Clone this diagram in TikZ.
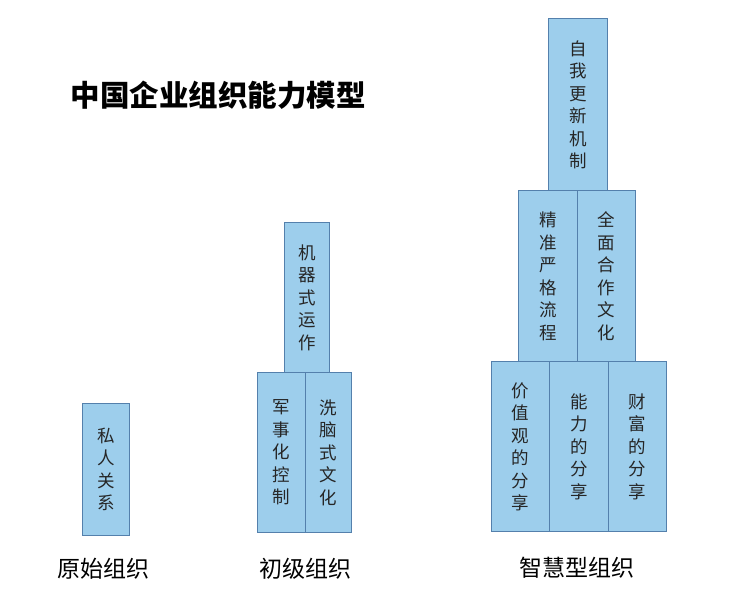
\documentclass[tikz,border=0pt]{standalone}
\usepackage{fontspec}
\setmainfont{Noto Sans CJK SC}
\newfontfamily\cjk{Noto Sans CJK SC}
\definecolor{boxfill}{RGB}{157,206,236}
\definecolor{boxline}{RGB}{84,128,172}
\begin{document}
\begin{tikzpicture}[x=1pt,y=-1pt,
  box/.style={draw=boxline, fill=boxfill, line width=1.2pt, inner sep=0pt, anchor=north west,
    align=center, font=\cjk\fontsize{17.5}{22.5}\selectfont, text=black!85},
  lvl/.style={font=\cjk\fontsize{23}{26}\selectfont, text=black},
  ttl/.style={font=\cjk\bfseries\fontsize{29.5}{32}\selectfont, text=black}]
\useasboundingbox (0,0) rectangle (738,592);
% title
\node[ttl] (title) at (218,95) {中国企业组织能力模型};
% primitive
\node[box, minimum width=47pt, minimum height=132pt] (p1) at (82,403) {私\\人\\关\\系};
\node[lvl] (l1) at (103,569) {原始组织};
% primary
\node[box, minimum width=45pt, minimum height=150pt] (a1) at (284,222) {机\\器\\式\\运\\作};
\node[box, minimum width=48pt, minimum height=160pt] (a2) at (257,372) {军\\事\\化\\控\\制};
\node[box, minimum width=46pt, minimum height=160pt] (a3) at (305,372) {洗\\脑\\式\\文\\化};
\node[lvl] (l2) at (305,569) {初级组织};
% wisdom
\node[box, minimum width=59pt, minimum height=172pt] (w1) at (548,18) {自\\我\\更\\新\\机\\制};
\node[box, minimum width=59pt, minimum height=171pt] (w2) at (518,190) {精\\准\\严\\格\\流\\程};
\node[box, minimum width=58pt, minimum height=171pt] (w3) at (577,190) {全\\面\\合\\作\\文\\化};
\node[box, minimum width=58pt, minimum height=170pt] (w4) at (491,361) {价\\值\\观\\的\\分\\享};
\node[box, minimum width=59pt, minimum height=170pt] (w5) at (549,361) {能\\力\\的\\分\\享};
\node[box, minimum width=58pt, minimum height=170pt] (w6) at (608,361) {财\\富\\的\\分\\享};
\node[lvl] (l3) at (577,568) {智慧型组织};
\end{tikzpicture}
\end{document}
